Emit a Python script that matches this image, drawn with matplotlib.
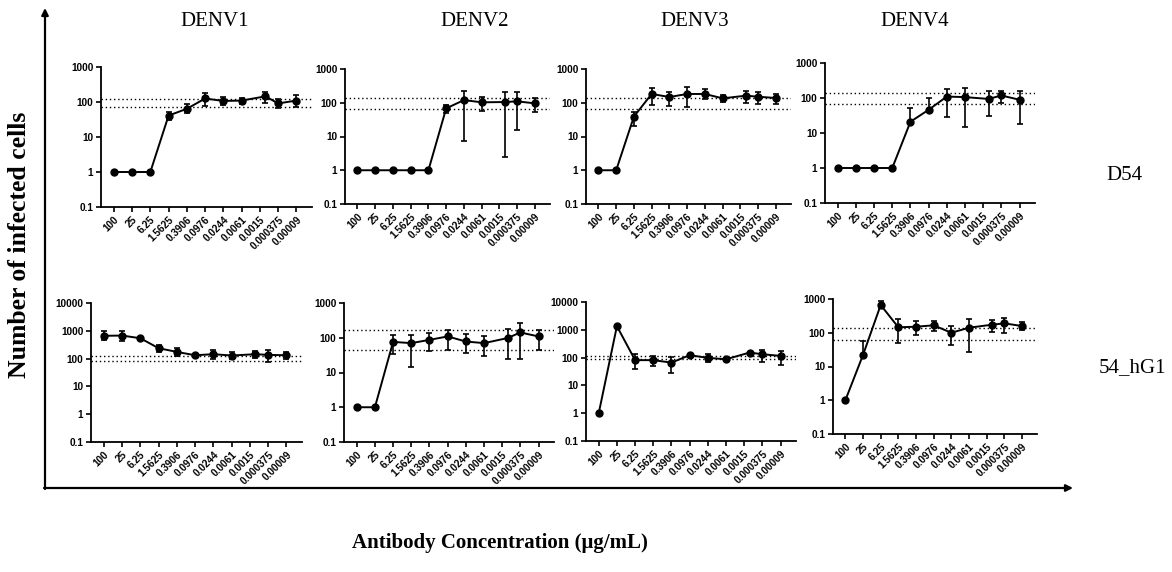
import numpy as np
import matplotlib
matplotlib.use("Agg")
import matplotlib.pyplot as plt
from matplotlib.ticker import FixedLocator, NullLocator

# ------------------------
# Data
# ------------------------
conc_labels = ["100", "25", "6.25", "1.5625", "0.3906", "0.0976", "0.0244",
               "0.0061", "0.0015", "0.000375", "0.00009"]
x_pos = [0, 1, 2, 3, 4, 5, 6, 7, 8.3, 9, 10]

serotypes = ["DENV1", "DENV2", "DENV3", "DENV4"]
antibodies = ["D54", "54_hG1"]

# D54 row
d54_denv1 = [1, 1, 1, 41, 64, 126, 107, 110, 145, 91, 110]
d54_denv1_lo = [1, 1, 1, 31, 48, 75, 82, 90, 92, 67, 72]
d54_denv1_hi = [1, 1, 1, 53, 87, 180, 140, 127, 195, 120, 158]
d54_denv1_ref = [120, 71]

d54_denv2 = [1, 1, 1, 1, 1, 68, 120, 103, 105, 110, 96]
d54_denv2_lo = [1, 1, 1, 1, 1, 49, 7.4, 57, 2.4, 16, 55]
d54_denv2_hi = [1, 1, 1, 1, 1, 86, 228, 151, 209, 209, 135]
d54_denv2_ref = [135, 67]

d54_denv3 = [1, 1, 39, 182, 148, 182, 182, 135, 162, 151, 138]
d54_denv3_lo = [1, 1, 21, 86, 81, 76, 126, 103, 96, 92, 92]
d54_denv3_hi = [1, 1, 54, 280, 213, 300, 256, 169, 228, 213, 186]
d54_denv3_ref = [135, 67]

d54_denv4 = [1, 1, 1, 1, 21, 46, 110, 106, 94, 118, 89]
d54_denv4_lo = [1, 1, 1, 1, 21, 46, 28, 14.5, 30, 71, 18]
d54_denv4_hi = [1, 1, 1, 1, 51, 103, 183, 192, 155, 163, 160]
d54_denv4_ref = [137, 66]

# 54_hG1 row
hg1_denv1 = [660, 675, 540, 237, 174, 132, 144, 129, 144, 136, 132]
hg1_denv1_lo = [450, 435, 480, 170, 120, 118, 95, 95, 109, 78, 95]
hg1_denv1_hi = [950, 1000, 600, 310, 235, 148, 206, 180, 190, 206, 175]
hg1_denv1_ref = [128, 80]

hg1_denv2 = [1, 1, 76, 70, 87, 109, 78, 70, 98, 142, 109]
hg1_denv2_lo = [1, 1, 34, 14, 42, 43, 36, 29, 24, 24, 43]
hg1_denv2_hi = [1, 1, 124, 124, 135, 167, 128, 114, 173, 262, 162]
hg1_denv2_ref = [162, 44]

hg1_denv3 = [1, 1350, 81, 81, 66, 122, 98, 87, 152, 132, 115]
hg1_denv3_lo = [1, 1350, 38, 48, 29, 112, 70, 80, 140, 70, 55]
hg1_denv3_hi = [1, 1350, 132, 115, 106, 134, 140, 95, 165, 190, 175]
hg1_denv3_ref = [112, 90]

hg1_denv4 = [1, 22, 664, 145, 151, 166, 100, 141, 173, 190, 158]
hg1_denv4_lo = [1, 22, 525, 51, 86, 116, 43, 26, 108, 100, 120]
hg1_denv4_hi = [1, 58, 870, 250, 222, 218, 158, 250, 240, 280, 205]
hg1_denv4_ref = [141, 63]

panels = [
    (d54_denv1, d54_denv1_lo, d54_denv1_hi, d54_denv1_ref, 1000),
    (d54_denv2, d54_denv2_lo, d54_denv2_hi, d54_denv2_ref, 1000),
    (d54_denv3, d54_denv3_lo, d54_denv3_hi, d54_denv3_ref, 1000),
    (d54_denv4, d54_denv4_lo, d54_denv4_hi, d54_denv4_ref, 1000),
    (hg1_denv1, hg1_denv1_lo, hg1_denv1_hi, hg1_denv1_ref, 10000),
    (hg1_denv2, hg1_denv2_lo, hg1_denv2_hi, hg1_denv2_ref, 1000),
    (hg1_denv3, hg1_denv3_lo, hg1_denv3_hi, hg1_denv3_ref, 10000),
    (hg1_denv4, hg1_denv4_lo, hg1_denv4_hi, hg1_denv4_ref, 1000),
]

# ------------------------
# Layout (pixels)
# ------------------------
W, H = 1172, 572
boxes = [  # left, top, width, height
    (101, 67, 211, 140), (345, 69, 205, 135), (586, 69, 205, 135), (825, 63, 210, 140),
    (91, 303, 211, 139), (344, 303, 210, 139), (586, 302, 210, 139), (833, 299, 204, 135),
]

fig = plt.figure(figsize=(W / 100, H / 100), dpi=100)

# overlay for arrows and big labels
bg = fig.add_axes([0, 0, 1, 1])
bg.set_xlim(0, W)
bg.set_ylim(H, 0)
bg.axis("off")

arrow_y = 488
bg.annotate("", xy=(45, 8), xytext=(45, arrow_y + 1),
            arrowprops=dict(arrowstyle="-|>", lw=1.6, color="black", mutation_scale=10, shrinkA=0, shrinkB=0))
bg.annotate("", xy=(1073, arrow_y), xytext=(44, arrow_y),
            arrowprops=dict(arrowstyle="-|>", lw=1.6, color="black", mutation_scale=10, shrinkA=0, shrinkB=0))

serif = "Liberation Serif"
title_x = [215, 475, 695, 915]
for tx, name in zip(title_x, serotypes):
    bg.text(tx, 22, name, family=serif, fontsize=15, ha="center", va="center")
bg.text(1124, 176, antibodies[0], family=serif, fontsize=15, ha="center", va="center")
bg.text(1132, 368, antibodies[1], family=serif, fontsize=15, ha="center", va="center")

bg.text(20, 245, "Number of infected cells", family=serif, fontsize=18.5, weight="bold",
        rotation=90, ha="center", va="center")
bg.text(500, 543, "Antibody Concentration (\u03bcg/mL)", family=serif, fontsize=15, weight="bold",
        ha="center", va="center")

# ------------------------
# Panels
# ------------------------
for (vals, lo, hi, ref, ytop), (l, t, w, h) in zip(panels, boxes):
    ax = fig.add_axes([l / W, 1 - (t + h) / H, w / W, h / H])
    vals = np.array(vals, dtype=float)
    yerr = [vals - np.array(lo), np.array(hi) - vals]
    for r in ref:
        ax.axhline(r, color="black", lw=1.0, ls=(0, (1, 2)))
    ax.errorbar(x_pos, vals, yerr=yerr, color="black", lw=1.4, marker="o", ms=5,
                elinewidth=1.2, capsize=2.5, capthick=1.2)
    ax.set_yscale("log")
    ax.set_ylim(0.1, ytop)
    ax.set_xlim(-0.7, 10.85)
    yt = [10.0 ** k for k in range(-1, int(np.log10(ytop)) + 1)]
    ax.yaxis.set_major_locator(FixedLocator(yt))
    ax.yaxis.set_minor_locator(NullLocator())
    ax.set_yticklabels(["0.1"] + [str(int(v)) for v in yt[1:]])
    ax.set_xticks(range(len(conc_labels)))
    ax.set_xticklabels(conc_labels, rotation=45, ha="right", rotation_mode="anchor")
    for lab in ax.get_xticklabels() + ax.get_yticklabels():
        lab.set_family("Liberation Sans")
        lab.set_weight("bold")
        lab.set_fontsize(7.2)
    ax.spines["top"].set_visible(False)
    ax.spines["right"].set_visible(False)
    ax.spines["left"].set_linewidth(1.3)
    ax.spines["bottom"].set_linewidth(1.3)
    ax.tick_params(direction="out", length=3.5, width=1.2, pad=2)
    ax.patch.set_alpha(0)

fig.savefig("out.png", dpi=100)
